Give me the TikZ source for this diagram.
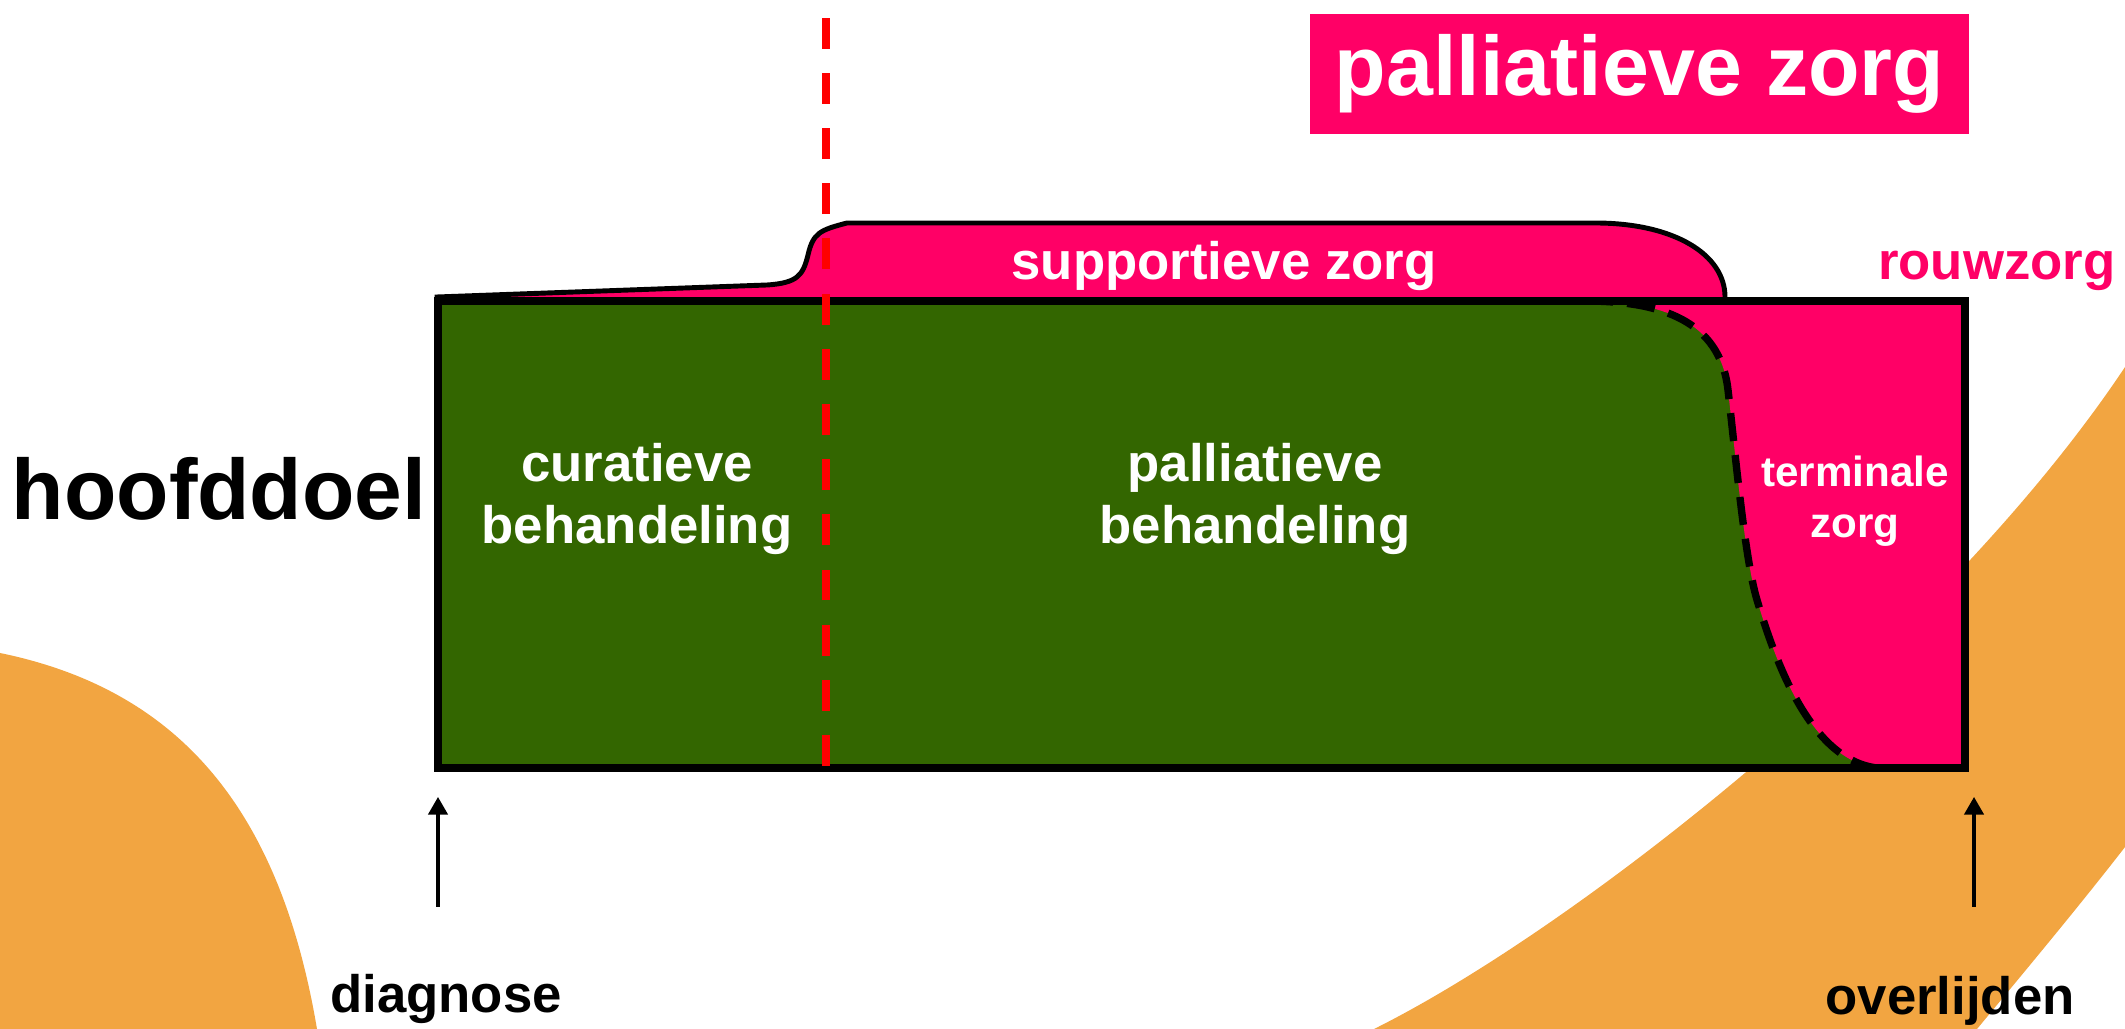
\documentclass[tikz,border=0pt]{standalone}
\usepackage{fontspec}
\setmainfont{Liberation Sans}
\usetikzlibrary{arrows.meta}
\definecolor{zorgroze}{HTML}{FF0066}
\definecolor{behgroen}{HTML}{336600}
\definecolor{oranje}{HTML}{F2A541}

\begin{document}
\begin{tikzpicture}[
  wit/.style={text=white, font=\fontsize{15}{17.5}\selectfont\bfseries, align=center},
  zwart/.style={text=black, font=\fontsize{15}{18}\selectfont\bfseries},
  pijl/.style={-{Triangle[length=5pt,width=5.5pt]}, line width=0.9pt}
]
\useasboundingbox (0,0) rectangle (21.25,-10.29);
% achtergrond
\fill[oranje] (0,-6.53) .. controls (1.8,-6.9) and (2.8,-8.1) .. (3.17,-10.29) -- (0,-10.29) -- cycle;
\fill[oranje] (13.74,-10.29) .. controls (15.81,-9.26) and (19.46,-6.36) .. (21.25,-3.67) -- (21.25,-8.47)
  .. controls (20.8,-9.05) and (20.3,-9.65) .. (19.77,-10.29) -- cycle;

\node[fill=zorgroze, text=white, font=\fontsize{24}{28}\selectfont\bfseries,
  minimum width=6.59cm, minimum height=1.2cm] (titel) at (16.395,-0.74) {palliatieve zorg};

% supportieve zorg
\filldraw[fill=zorgroze, line width=1.4pt] (4.37,-3.1) -- (4.37,-2.97) -- (7.67,-2.85)
  .. controls (7.98,-2.83) and (8.03,-2.75) .. (8.08,-2.55)
  .. controls (8.13,-2.33) and (8.2,-2.3) .. (8.47,-2.23) -- (15.95,-2.23)
  .. controls (16.75,-2.23) and (17.25,-2.55) .. (17.25,-2.97) -- (17.25,-3.1) -- cycle;

% hoofddoel
\coordinate (lb) at (4.38,-3.01);
\coordinate (ro) at (19.65,-7.68);
\fill[behgroen] (lb) rectangle (ro);
\fill[zorgroze] (15.85,-3.01) .. controls (16.6,-3.01) and (17.2,-3.2) .. (17.28,-3.9)
  .. controls (17.36,-4.6) and (17.45,-5.6) .. (17.57,-6.0)
  .. controls (17.75,-6.6) and (18.1,-7.6) .. (18.77,-7.68) -- (19.65,-7.68) -- (19.65,-3.01) -- cycle;
\draw[line width=2.1pt, dash pattern=on 8pt off 4pt] (15.85,-3.01) .. controls (16.6,-3.01) and (17.2,-3.2) .. (17.28,-3.9)
  .. controls (17.36,-4.6) and (17.45,-5.6) .. (17.57,-6.0)
  .. controls (17.75,-6.6) and (18.1,-7.6) .. (18.77,-7.68);
\draw[line width=2.3pt] (lb) rectangle (ro);

% grens curatief / palliatief
\coordinate (gb) at (8.26,0);
\coordinate (go) at (8.26,-7.66);
\draw[red, line width=2pt, dash pattern=on 8.8pt off 6.9pt] (go) -- (gb);

\node[zwart, font=\fontsize{24.4}{28}\selectfont\bfseries, anchor=base] (hoofddoel) at (2.19,-5.2) {hoofddoel};
\node[wit] (curatief) at (6.37,-4.99) {curatieve\\behandeling};
\node[wit] (palliatief) at (12.55,-4.99) {palliatieve\\behandeling};
\node[wit, font=\fontsize{12}{14.5}\selectfont\bfseries] (terminaal) at (18.55,-5.01) {terminale\\zorg};
\node[wit, anchor=base] (supportief) at (12.24,-2.8) {supportieve zorg};
\node[zwart, text=zorgroze, anchor=base east, inner sep=0pt] (rouw) at (21.16,-2.8) {rouwzorg};
\node[zwart, anchor=base] (diagnose) at (4.46,-10.13) {diagnose};
\node[zwart, anchor=base] (overlijden) at (19.5,-10.15) {overlijden};

\coordinate (d1) at (4.38,-9.07);
\coordinate (d2) at (4.38,-7.97);
\coordinate (o1) at (19.74,-9.07);
\coordinate (o2) at (19.74,-7.97);
\draw[pijl] (d1) -- (d2);
\draw[pijl] (o1) -- (o2);
\end{tikzpicture}
\end{document}
